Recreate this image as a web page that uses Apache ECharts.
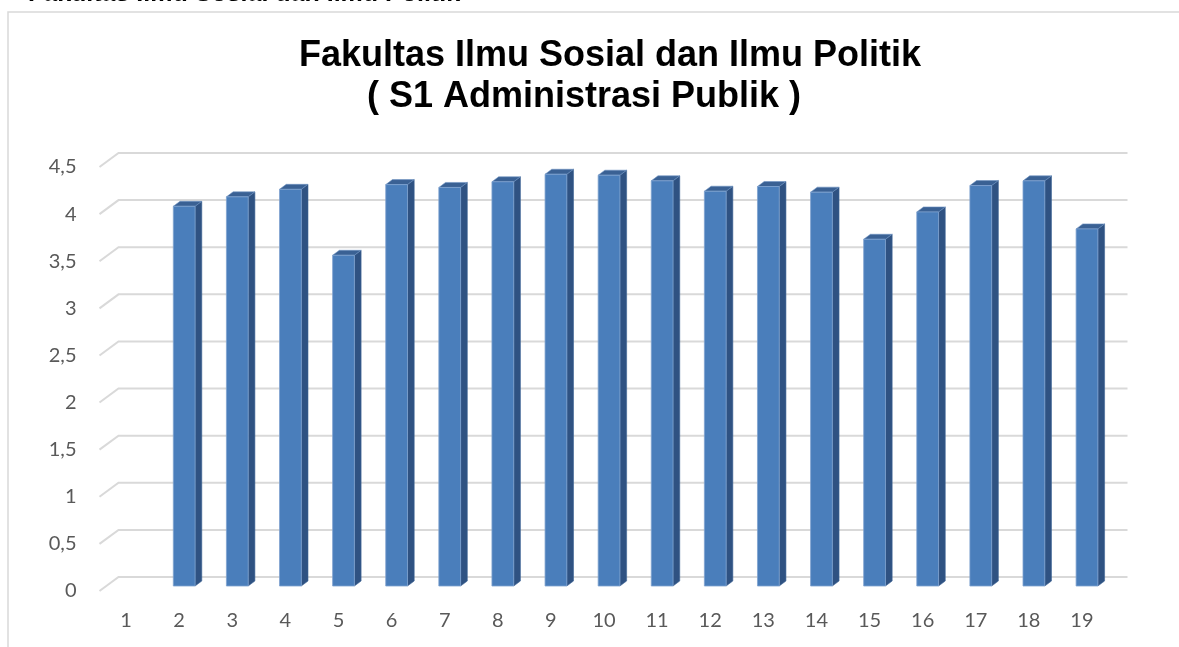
<!DOCTYPE html>
<html>
<head>
<meta charset="utf-8">
<script src="https://cdn.jsdelivr.net/npm/echarts@6/dist/echarts.min.js"></script>
<style>
html,body{margin:0;padding:0;background:#fff;}
#chart{width:1179px;height:647px;}
</style>
</head>
<body>
<div id="chart"></div>
<script>
// ---- data ----
var categories = ['1','2','3','4','5','6','7','8','9','10','11','12','13','14','15','16','17','18','19'];
var values = [null, 4.03, 4.13, 4.21, 3.51, 4.26, 4.23, 4.29, 4.37, 4.36, 4.30, 4.19, 4.24, 4.18, 3.68, 3.97, 4.25, 4.30, 3.79];
var yTicks = [0, 0.5, 1, 1.5, 2, 2.5, 3, 3.5, 4, 4.5];
var titleLine1 = 'Fakultas Ilmu Sosial dan Ilmu Politik';
var titleLine2 = '( S1 Administrasi Publik )';
var topFragment = 'Fakultas Ilmu Sosial dan Ilmu Politik';

// ---- styling constants (3D look) ----
var DEPTH_X = 19, DEPTH_Y = 14;     // back wall offset
var BAR_LIFT = 5;                  // bars sit slightly behind front edge
var BAR_SIDE_X = 6.7, BAR_SIDE_Y = 5;

var chart = echarts.init(document.getElementById('chart'), null, {renderer: 'canvas'});

var barData = values.map(function (v, i) { return [i, v]; });
var gridData = yTicks.map(function (v) { return [0, v]; });

var option = {
  animation: false,
  backgroundColor: '#ffffff',
  graphic: [
    { type: 'rect', shape: {x: 8, y: 12, width: 1400, height: 900}, style: {fill: 'none', stroke: '#d9d9d9', lineWidth: 1.5}, silent: true },
    { type: 'text', x: 28, y: 6.5, style: {text: topFragment, font: 'bold 25px "Liberation Sans", Arial', fill: '#000', textVerticalAlign: 'bottom'}, silent: true },
    { type: 'text', x: 610, y: 56, style: {text: titleLine1, font: 'bold 36px "Liberation Sans", Arial', fill: '#000', textAlign: 'center', textVerticalAlign: 'middle'}, silent: true },
    { type: 'text', x: 584, y: 97, style: {text: titleLine2, font: 'bold 36px "Liberation Sans", Arial', fill: '#000', textAlign: 'center', textVerticalAlign: 'middle'}, silent: true }
  ],
  grid: { left: 99.5, right: 70.5, top: 167, bottom: 56, containLabel: false },
  xAxis: {
    type: 'category',
    data: categories,
    axisLine: {show: false},
    axisTick: {show: false},
    axisLabel: {color: '#595959', fontFamily: 'Lato', fontSize: 20, margin: 20}
  },
  yAxis: {
    type: 'value',
    min: 0, max: 4.5, interval: 0.5,
    axisLine: {show: false},
    axisTick: {show: false},
    splitLine: {show: false},
    axisLabel: {
      color: '#595959', fontFamily: 'Lato', fontSize: 20, margin: 23,
      formatter: function (v) { return String(v).replace('.', ','); }
    }
  },
  series: [
    {
      type: 'custom',
      name: 'grid',
      z: 1,
      clip: false,
      silent: true,
      data: gridData,
      renderItem: function (params, api) {
        var v = api.value(1);
        var bw = api.size([1, 0])[0];
        var p0 = api.coord([0, v]);
        var pN = api.coord([categories.length - 1, v]);
        var left = p0[0] - bw / 2;
        var right = pN[0] + bw / 2;
        var y = p0[1];
        return {
          type: 'polyline',
          shape: {points: [[left, y], [left + DEPTH_X, y - DEPTH_Y], [right + DEPTH_X, y - DEPTH_Y]]},
          style: {stroke: '#d9d9d9', lineWidth: 2, fill: null}
        };
      }
    },
    {
      type: 'custom',
      name: 'S1 Administrasi Publik',
      z: 5,
      clip: false,
      data: barData,
      renderItem: function (params, api) {
        var v = api.value(1);
        if (v == null || isNaN(v) || v <= 0) return null;
        var c = api.value(0);
        var bw = api.size([1, 0])[0];
        var top = api.coord([c, v]);
        var base = api.coord([c, 0]);
        var L = top[0] - 0.11 * bw;
        var R = L + 0.41 * bw;
        var T = top[1] - BAR_LIFT;
        var B = base[1] - BAR_LIFT;
        var dx = BAR_SIDE_X, dy = BAR_SIDE_Y;
        return {
          type: 'group',
          children: [
            { type: 'polygon', shape: {points: [[R, T], [R + dx, T - dy], [R + dx, B - dy], [R, B]]},
              style: {fill: '#2f5282', stroke: '#3e6596', lineWidth: 0.6} },
            { type: 'polygon', shape: {points: [[L, T], [R, T], [R + dx, T - dy], [L + dx, T - dy]]},
              style: {fill: '#3a6194', stroke: '#6e93c3', lineWidth: 0.6} },
            { type: 'rect', shape: {x: L, y: T, width: R - L, height: B - T},
              style: {fill: '#4a7ebb', stroke: '#7fa2cf', lineWidth: 0.8} }
          ]
        };
      }
    }
  ]
};
chart.setOption(option);
</script>
</body>
</html>
